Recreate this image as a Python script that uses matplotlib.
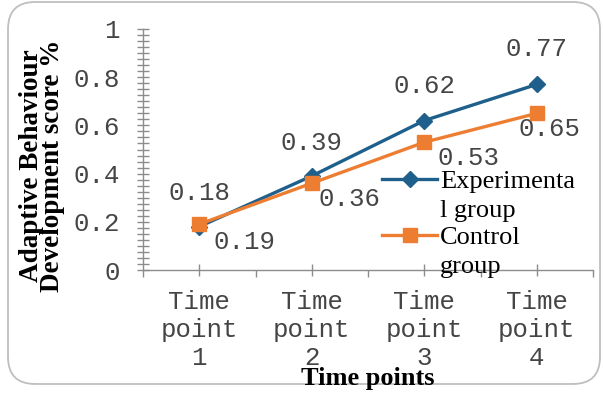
import matplotlib
matplotlib.use("Agg")
import matplotlib.pyplot as plt
from matplotlib.patches import FancyBboxPatch
from matplotlib.ticker import MultipleLocator, FuncFormatter, FixedLocator
from matplotlib.lines import Line2D

categories = ["Time\npoint\n1", "Time\npoint\n2", "Time\npoint\n3", "Time\npoint\n4"]
experimental = [0.18, 0.39, 0.62, 0.77]
control = [0.19, 0.36, 0.53, 0.65]
series_names = ["Experimenta\nl group", "Control\ngroup"]
y_ticks = [0, 0.2, 0.4, 0.6, 0.8, 1]
x_title = "Time points"
y_title = "Adaptive Behaviour\nDevelopment score %"

# label offsets (pixels)
exp_off = [(0, 34), (0, 33), (0, 35), (0, 35)]
ctl_off = [(45, -18), (38, -16), (44, -16), (13, -16)]

BLUE = "#1F5F8B"
ORANGE = "#ED7D31"
GRAY = "#8C8C8C"
TXT = "#454545"
MONO = "Liberation Mono"
SERIF = "Liberation Serif"

W, H = 603, 394
fig = plt.figure(figsize=(W / 100, H / 100), dpi=100)

# rounded outer frame
frame = FancyBboxPatch((8 / W, 10 / H), (600 - 8) / W, (392 - 10) / H,
                       boxstyle="round,pad=0,rounding_size=0.045",
                       transform=fig.transFigure, fill=False,
                       edgecolor="#BFBFBF", linewidth=1.3, mutation_aspect=W / H)
fig.patches.append(frame)

L, R, T, B = 143, 593, 29, 270
ax = fig.add_axes([L / W, 1 - B / H, (R - L) / W, (B - T) / H])
ax.set_facecolor("none")

x = list(range(len(categories)))
ax.plot(x, experimental, color=BLUE, linewidth=2.4, marker="D", markersize=8,
        zorder=3, clip_on=False)
ax.plot(x, control, color=ORANGE, linewidth=2.4, marker="s", markersize=10,
        zorder=4, clip_on=False)

for xi, v, off in zip(x, experimental, exp_off):
    ax.annotate(f"{v:.2f}", (xi, v), xytext=off, textcoords="offset pixels",
                ha="center", va="center", fontsize=18.5, family=MONO, color=TXT)
for xi, v, off in zip(x, control, ctl_off):
    ax.annotate(f"{v:.2f}", (xi, v), xytext=off, textcoords="offset pixels",
                ha="center", va="center", fontsize=18.5, family=MONO, color=TXT)

ax.set_xlim(-0.5, len(categories) - 0.5)
ax.set_ylim(0, 1)

for s in ["top", "right"]:
    ax.spines[s].set_visible(False)
for s in ["left", "bottom"]:
    ax.spines[s].set_color(GRAY)
    ax.spines[s].set_linewidth(1.0)

ax.yaxis.set_major_locator(FixedLocator(y_ticks))
ax.yaxis.set_minor_locator(MultipleLocator(0.025))
ax.yaxis.set_major_formatter(FuncFormatter(lambda v, p: f"{v:g}"))
ax.tick_params(axis="y", which="both", direction="inout", length=9, width=1,
               color=GRAY, pad=12)
ax.tick_params(axis="y", which="major", labelsize=18.5, labelcolor=TXT)

ax.set_xticks(x)
ax.set_xticklabels(categories)
ax.xaxis.set_minor_locator(FixedLocator([i - 0.5 for i in range(len(categories) + 1)]))
ax.tick_params(axis="x", which="major", direction="inout", length=9, width=1,
               color=GRAY, pad=10, labelsize=18.5, labelcolor=TXT)
ax.tick_params(axis="x", which="minor", direction="out", length=5, width=1, color=GRAY)
for lab in ax.get_xticklabels() + ax.get_yticklabels():
    lab.set_family(MONO)
for lab in ax.get_xticklabels():
    lab.set_linespacing(1.22)

# axis titles
fig.text(368 / W, 1 - 378 / H, x_title, ha="center", va="center",
         fontsize=19, fontweight="bold", family=SERIF, color="black")
fig.text(42 / W, 1 - 166 / H, y_title, ha="center", va="center", rotation=90,
         fontsize=19.5, fontweight="bold", family=SERIF, color="black",
         linespacing=0.78)

# legend (manual)
leg_rows = [179, 235]
for name, row, col, mk, ms in zip(series_names, leg_rows, [BLUE, ORANGE], ["D", "s"], [8, 10]):
    y0 = (B - row) / (B - T)
    ax.add_line(Line2D([(382 - L) / (R - L), (437 - L) / (R - L)], [y0, y0],
                       transform=ax.transAxes, color=col, linewidth=2.4, clip_on=False))
    ax.add_line(Line2D([(410 - L) / (R - L)], [y0], transform=ax.transAxes,
                       color=col, marker=mk, markersize=ms, clip_on=False))
    for i, line in enumerate(name.split("\n")):
        ax.text((440 - L) / (R - L), (B - (row + 3 + i * 29)) / (B - T), line,
                transform=ax.transAxes, ha="left", va="center", fontsize=19,
                family=SERIF, color="black")

fig.savefig("out.png", dpi=100)
